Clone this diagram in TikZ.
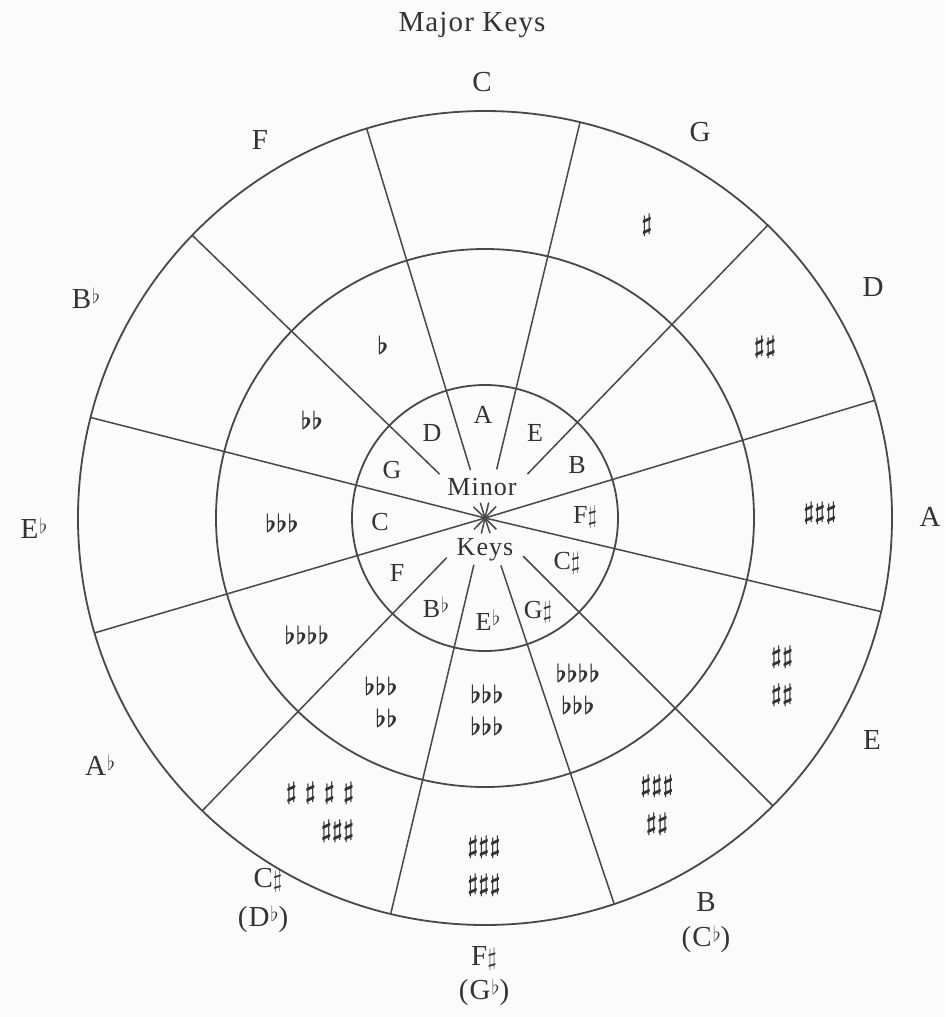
\documentclass[tikz,border=0pt]{standalone}
\usepackage{fontspec}
\setmainfont{Liberation Serif}[LetterSpace=4]
\usepackage{xcolor}
\usepackage{tikz}
\usetikzlibrary{positioning}
\definecolor{fifthsInk}{HTML}{484848}
\definecolor{fifthsText}{HTML}{333333}
\definecolor{fifthsPaper}{HTML}{FBFBFB}
\newcommand{\kSh}{\ensuremath{\sharp}}
\newcommand{\kFl}{\kern1pt\raisebox{5pt}{\fontsize{20}{20}\selectfont$\flat$}}

\begin{document}
\begin{tikzpicture}[
  x=1pt,y=-1pt,
  ring/.style={draw=fifthsInk,line width=1.8pt},
  spoke/.style={draw=fifthsInk,line width=1.5pt},
  majlbl/.style={text=fifthsText,font=\fontsize{29}{32}\selectfont,inner sep=2pt},
  minlbl/.style={text=fifthsText,font=\fontsize{26}{30}\selectfont,inner sep=1pt},
  sharps/.style={text=fifthsText,font=\fontsize{29}{38}\selectfont\boldmath,align=#1,inner sep=0pt},
  sharps/.default=center,
  flats/.style={text=fifthsText,font=\fontsize{28}{32}\selectfont\boldmath,align=#1,inner sep=0pt},
  flats/.default=center
]
  \fill[fifthsPaper] (0,0) rectangle (945,1017);
  \useasboundingbox (0,0) rectangle (945,1017);
  \coordinate (c) at (485,518);

  % the three rings and the twelve spokes
  \draw[ring] (c) circle[radius=407pt];
  \draw[ring] (c) circle[radius=269pt];
  \draw[ring] (c) circle[radius=133pt];
  \foreach \a/\r in {76.5/50,106.9/50,136/63,165.7/0,196.4/0,226/55,256.6/48,288.5/50,315/54,346.7/0,16.8/0,46/61}
    \draw[spoke,shift={(c)}] (-\a:\r) -- (-\a:407);
  \foreach \a in {46,76.5,106.9,136,226,256.6,288.5,315}
    \draw[spoke,shift={(c)}] (0,0) -- (-\a:16);

  % major keys, outside
  \node[majlbl] (title) at (472,25) {Major Keys};
  \node[majlbl] (maj-C) at (482,82) {C};
  \node[majlbl] (maj-G) at (700,132) {G};
  \node[majlbl] (maj-D) at (873,287) {D};
  \node[majlbl] (maj-A) at (930,517) {A};
  \node[majlbl] (maj-E) at (872,740) {E};
  \node[majlbl] (maj-B) at (706,902) {B};
  \node[majlbl,below=10pt of maj-B] (maj-Cb) {(C\kFl)};
  \node[majlbl] (maj-Fs) at (484,958) {F\kSh};
  \node[majlbl,below=5pt of maj-Fs] (maj-Gb) {(G\kFl)};
  \node[majlbl] (maj-Cs) at (268,880) {C\kSh};
  \node[majlbl,below=10pt of maj-Cs,xshift=-5pt] (maj-Db) {(D\kFl)};
  \node[majlbl] (maj-Ab) at (100,765) {A\kFl};
  \node[majlbl] (maj-Eb) at (34,528) {E\kFl};
  \node[majlbl] (maj-Bb) at (86,298) {B\kFl};
  \node[majlbl] (maj-F) at (260,140) {F};

  % signatures, middle ring
  \node[sharps] (sig-G) at (647,225) {$\sharp$};
  \node[sharps] (sig-D) at (765,347) {$\sharp\sharp$};
  \node[sharps] (sig-A) at (820,513) {$\sharp\sharp\sharp$};
  \node[sharps] (sig-E) at (782,676) {$\sharp\sharp$\\$\sharp\sharp$};
  \node[sharps] (sig-B) at (657,805) {$\sharp\sharp\sharp$\\$\sharp\sharp$};
  \node[sharps] (sig-Fs) at (484,866) {$\sharp\sharp\sharp$\\$\sharp\sharp\sharp$};
  \node[sharps=right] (sig-Cs) at (320,812) {$\sharp\;\sharp\;\sharp\;\sharp$\\$\sharp\sharp\sharp$};
  \node[flats] (sig-F) at (383,345) {$\flat$};
  \node[flats] (sig-Bb) at (312,420) {$\flat\flat$};
  \node[flats] (sig-Eb) at (282,523) {$\flat\flat\flat$};
  \node[flats] (sig-Ab) at (307,635) {$\flat\flat\flat\flat$};
  \node[flats=right] (sig-Db) at (381,702) {$\flat\flat\flat$\\$\flat\flat$};
  \node[flats] (sig-Gb) at (487,710) {$\flat\flat\flat$\\$\flat\flat\flat$};
  \node[flats] (sig-Cb) at (578,689) {$\flat\flat\flat\flat$\\$\flat\flat\flat$};

  % minor keys, inner ring
  \node[minlbl] (minor) at (482,487) {Minor};
  \node[minlbl] (keys) at (485,550) {Keys};
  \node[minlbl] (min-A) at (483,415) {A};
  \node[minlbl] (min-E) at (535,433) {E};
  \node[minlbl] (min-B) at (577,465) {B};
  \node[minlbl] (min-Fs) at (585,517) {F\kSh};
  \node[minlbl] (min-Cs) at (567,563) {C\kSh};
  \node[minlbl] (min-Gs) at (538,612) {G\kSh};
  \node[minlbl] (min-Eb) at (488,620) {E\kFl};
  \node[minlbl] (min-Bb) at (436,607) {B\kFl};
  \node[minlbl] (min-F) at (397,573) {F};
  \node[minlbl] (min-C) at (380,522) {C};
  \node[minlbl] (min-G) at (392,470) {G};
  \node[minlbl] (min-D) at (432,433) {D};
\end{tikzpicture}
\end{document}
